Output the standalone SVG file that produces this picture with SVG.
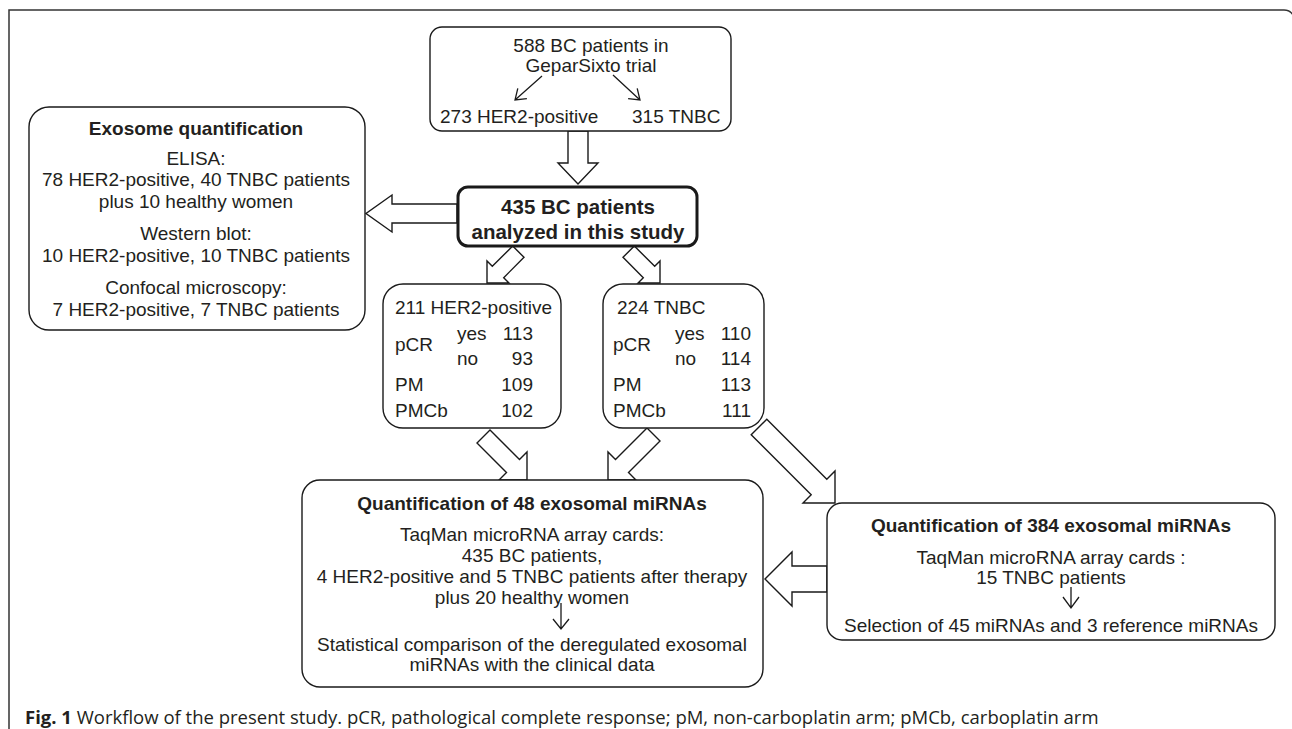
<svg xmlns="http://www.w3.org/2000/svg" width="1292" height="729" viewBox="0 0 1292 729">
<style>
.t{font-family:"Liberation Sans",Arial,sans-serif;font-size:19px;fill:#231f20}
.b{font-weight:bold}
.c{text-anchor:middle}
.e{text-anchor:end}
.box{fill:#fff;stroke:#1a1a1a;stroke-width:1.4}
.arr{fill:#fff;stroke:#1a1a1a;stroke-width:1.4;stroke-linejoin:miter}
.ln{fill:none;stroke:#1a1a1a;stroke-width:1.3}
.cap{font-family:"Open Sans","Noto Sans",sans-serif;font-size:18.5px;fill:#231f20}
</style>
<rect width="1292" height="729" fill="#fff"/>
<path d="M9,729 V10 H1284 Q1290,10 1293,15" fill="none" stroke="#333" stroke-width="1.5"/>
<g id="connectors">
<polygon class="arr" points="568,131 588,131 588,163 598,163 578,184 558,163 568,163"/>
<polygon class="arr" points="457,204 392,204 392,195 366,213.5 392,232 392,223 457,223"/>
<polygon class="arr" points="487,283 509,283 503.7,277.7 524,257.3 512.7,246 492.3,266.3 487,261"/>
<polygon class="arr" points="660,283 660,261 654.7,266.3 634.3,246 623,257.3 643.3,277.7 638,283"/>
<polygon class="arr" points="527,480 527,452 519.5,459.5 490,430 477,443 506.5,472.5 499,480"/>
<polygon class="arr" points="608,480 636,480 628.5,472.5 660,441 647,428 615.5,459.5 608,452"/>
<polygon class="arr" points="835,503 803,503 811.2,494.8 751.2,434.8 766.8,419.2 826.8,479.2 835,471"/>
<polygon class="arr" points="827,566 792,566 792,552 765,579 792,606 792,592 827,592"/>
</g>
<g id="n_gepar">
<rect class="box" x="430" y="27" width="301" height="104" rx="12"/>
<text class="t c" x="591" y="52">588 BC patients in</text>
<text class="t c" x="591" y="72">GeparSixto trial</text>
<path class="ln" d="M542,76 L515,100 M517.8,88.3 L515,100 L526.9,98.6"/>
<path class="ln" d="M613,75 L640,100 M628.1,98.6 L640,100 L637.2,88.3"/>
<text class="t" x="440" y="123">273 HER2-positive</text>
<text class="t" x="632" y="123">315 TNBC</text>
</g>
<g id="n_exosome">
<rect class="box" x="29" y="107" width="336" height="223" rx="20"/>
<text class="t b c" x="196" y="135">Exosome quantification</text>
<text class="t c" x="196" y="165">ELISA:</text>
<text class="t c" x="196" y="186">78 HER2-positive, 40 TNBC patients</text>
<text class="t c" x="196" y="208">plus 10 healthy women</text>
<text class="t c" x="196" y="240">Western blot:</text>
<text class="t c" x="196" y="262">10 HER2-positive, 10 TNBC patients</text>
<text class="t c" x="196" y="294">Confocal microscopy:</text>
<text class="t c" x="196" y="316">7 HER2-positive, 7 TNBC patients</text>
</g>
<g id="n_study">
<rect class="box" x="458" y="187" width="239" height="59" rx="10" style="stroke-width:3"/>
<text class="t b c" x="578" y="214" style="font-size:20.5px">435 BC patients</text>
<text class="t b c" x="578" y="239" style="font-size:20.5px">analyzed in this study</text>
</g>
<g id="n_her2">
<rect class="box" x="383" y="284" width="178" height="144" rx="20"/>
<text class="t" x="395" y="314">211 HER2-positive</text>
<text class="t" x="395" y="351">pCR</text>
<text class="t" x="457" y="340">yes</text>
<text class="t e" x="533" y="340">113</text>
<text class="t" x="457" y="365">no</text>
<text class="t e" x="533" y="365">93</text>
<text class="t" x="395" y="391">PM</text>
<text class="t e" x="533" y="391">109</text>
<text class="t" x="395" y="417">PMCb</text>
<text class="t e" x="533" y="417">102</text>
</g>
<g id="n_tnbc">
<rect class="box" x="603" y="284" width="161" height="144" rx="20"/>
<text class="t" x="617" y="314">224 TNBC</text>
<text class="t" x="613" y="351">pCR</text>
<text class="t" x="675" y="340">yes</text>
<text class="t e" x="751" y="340">110</text>
<text class="t" x="675" y="365">no</text>
<text class="t e" x="751" y="365">114</text>
<text class="t" x="613" y="391">PM</text>
<text class="t e" x="751" y="391">113</text>
<text class="t" x="613" y="417">PMCb</text>
<text class="t e" x="751" y="417">111</text>
</g>
<g id="n_q48">
<rect class="box" x="302" y="480" width="461" height="207" rx="18"/>
<text class="t b c" x="532" y="510">Quantification of 48 exosomal miRNAs</text>
<text class="t c" x="532" y="541">TaqMan microRNA array cards:</text>
<text class="t c" x="532" y="562">435 BC patients,</text>
<text class="t c" x="532" y="583">4 HER2-positive and 5 TNBC patients after therapy</text>
<text class="t c" x="532" y="604">plus 20 healthy women</text>
<path class="ln" d="M561,603 V629 M553,619 L561,629 L569,619"/>
<text class="t c" x="532" y="651">Statistical comparison of the deregulated exosomal</text>
<text class="t c" x="532" y="671">miRNAs with the clinical data</text>
</g>
<g id="n_q384">
<rect class="box" x="827" y="503" width="448" height="137" rx="15"/>
<text class="t b c" x="1051" y="532">Quantification of 384 exosomal miRNAs</text>
<text class="t c" x="1051" y="564">TaqMan microRNA array cards :</text>
<text class="t c" x="1051" y="584">15 TNBC patients</text>
<path class="ln" d="M1071,587 V608 M1063,597 L1071,608 L1079,597"/>
<text class="t c" x="1051" y="632">Selection of 45 miRNAs and 3 reference miRNAs</text>
</g>
<text class="cap" x="25" y="724"><tspan font-weight="bold">Fig. 1</tspan> Workflow of the present study. pCR, pathological complete response; pM, non-carboplatin arm; pMCb, carboplatin arm</text>
</svg>
